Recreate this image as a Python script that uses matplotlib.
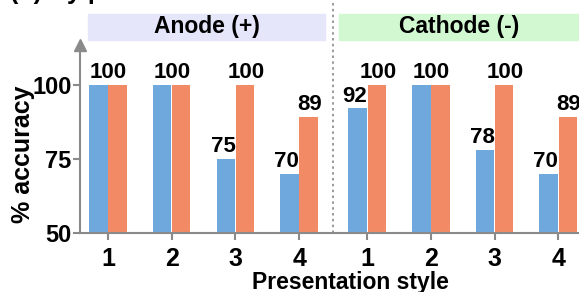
import matplotlib.pyplot as plt
import numpy as np

plt.rcParams['font.family'] = ['Liberation Sans', 'DejaVu Sans']
plt.rcParams['font.weight'] = 'bold'

styles = ['1', '2', '3', '4']
anode_blue = [100, 100, 75, 70]
anode_orange = [100, 100, 100, 89]
cathode_blue = [92, 100, 78, 70]
cathode_orange = [100, 100, 100, 89]

blue = '#6fa8dc'
orange = '#f28a66'
grey = '#8a8a8a'

x = np.array([0, 1, 2, 3, 4.07, 5.07, 6.07, 7.07])
blue_vals = anode_blue + cathode_blue
orange_vals = anode_orange + cathode_orange
w = 0.29

fig = plt.figure(figsize=(5.79, 2.92), dpi=100)
ax = fig.add_axes([80/579, 1-233/292, 512/579, (233-46)/292])

ax.bar(x - w/2 - 0.005, blue_vals, w, bottom=0, color=blue)
ax.bar(x + w/2 + 0.005, orange_vals, w, bottom=0, color=orange)

for xi, b, o in zip(x, blue_vals, orange_vals):
    if b == o:
        ax.text(xi, b + 0.6, str(b), ha='center', va='bottom', fontsize=16, fontweight='bold')
    else:
        ax.text(xi - w/2 - 0.05, b + 0.6, str(b), ha='center', va='bottom', fontsize=16, fontweight='bold')
        ax.text(xi + w/2 + 0.02, o + 0.6, str(o), ha='center', va='bottom', fontsize=16, fontweight='bold')

ax.set_ylim(50, 113)
ax.set_xlim(-0.44, 7.6)
ax.set_yticks([50, 75, 100])
ax.set_xticks(x)
ax.set_xticklabels(styles * 2)
ax.tick_params(axis='both', colors=grey, labelcolor='black', width=1.5, length=5)
ax.tick_params(axis='x', labelsize=18, pad=5)
ax.tick_params(axis='y', labelsize=17, pad=1)
for lab in ax.get_xticklabels() + ax.get_yticklabels():
    lab.set_fontweight('bold')

for s in ['top', 'right']:
    ax.spines[s].set_visible(False)
for s in ['left', 'bottom']:
    ax.spines[s].set_color(grey)
    ax.spines[s].set_linewidth(1.5)
ax.plot([-0.44], [113.5], marker='^', color=grey, markersize=8, clip_on=False)

ax.set_ylabel('% accuracy', fontsize=18, fontweight='bold')
ax.yaxis.set_label_coords((35-80)/512, (233-154)/187)
ax.set_xlabel('Presentation style', fontsize=16.5, fontweight='bold')
ax.xaxis.set_label_coords((350-80)/512, -(271-233)/187)

# divider between the two electrodes
ax.axvline(3.535, ymin=0, ymax=1.35, color=grey, linestyle=(0, (1.5, 2)), linewidth=1.2, clip_on=False)

# header bands
fig.patches.append(plt.Rectangle((88/579, 1-40/292), (325-88)/579, 26/292,
                                 transform=fig.transFigure, color='#e6e6fb', zorder=0))
fig.patches.append(plt.Rectangle((339/579, 1-40/292), (579-339)/579, 26/292,
                                 transform=fig.transFigure, color='#d2f8d2', zorder=0))
fig.text(207/579, 1-27/292, 'Anode (+)', ha='center', va='center', fontsize=16.5, fontweight='bold')
fig.text(459/579, 1-27/292, 'Cathode (-)', ha='center', va='center', fontsize=16.5, fontweight='bold')

# title, cut off at the top edge so only the descenders show
fig.text(10/579, 1 + 1/292, '(b) By presentation mode and electrode accuracy', ha='left', va='baseline',
         fontsize=18, fontweight='bold')

fig.savefig('out.png', dpi=100)
